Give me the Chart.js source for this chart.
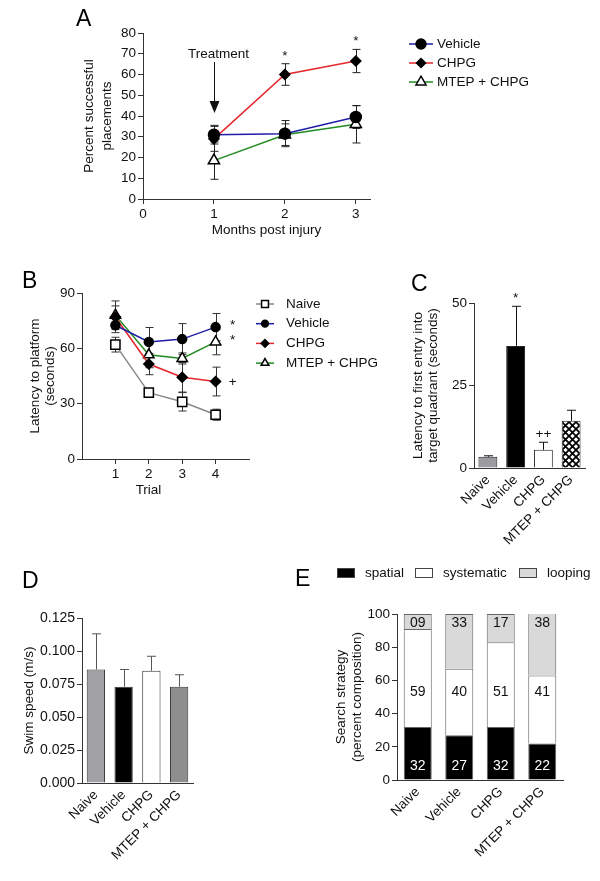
<!DOCTYPE html>
<html>
<head>
<meta charset="utf-8">
<script src="https://cdn.jsdelivr.net/npm/chart.js@4.4.0/dist/chart.umd.min.js"></script>
<style>
  body { margin: 0; background: #fff; }
  #fig { position: relative; width: 600px; height: 881px; background: #fff; overflow: hidden;
         font-family: 'Liberation Sans', Arial, sans-serif; }
  #fig canvas { position: absolute; }
  .letter { position: absolute; font-size: 23px; line-height: 1; color: #000; }
</style>
</head>
<body>
<div id="fig">
  <canvas id="chartA" width="600" height="240" style="left:0;top:0"></canvas>
  <canvas id="chartB" width="380" height="260" style="left:0;top:240px"></canvas>
  <canvas id="chartC" width="220" height="340" style="left:380px;top:240px"></canvas>
  <canvas id="chartD" width="300" height="381" style="left:0;top:500px"></canvas>
  <canvas id="chartE" width="300" height="381" style="left:300px;top:500px"></canvas>
  <div class="letter" style="left:76px;top:7px">A</div>
  <div class="letter" style="left:22px;top:269px">B</div>
  <div class="letter" style="left:411px;top:272px">C</div>
  <div class="letter" style="left:22px;top:569px">D</div>
  <div class="letter" style="left:295px;top:567px">E</div>
</div>
<script>
// ======================
// Data
// ======================
const groups = ['Naive', 'Vehicle', 'CHPG', 'MTEP + CHPG'];

// A - placements
const monthsA = [1, 2, 3];
const vehicleA = [31, 31.5, 39.5];
const vehicleErrA = [4.5, 6.3, 5.5];
const chpgA = [29, 60, 66.5];
const chpgErrA = [6, 5.2, 5.6];
const mtepA = [18.5, 31, 36];
const mtepErrA = [9, 5.2, 9];
const chpgSigA = ['', '*', '*'];
const xTicksA = [0, 1, 2, 3];
const yTicksA = [0, 10, 20, 30, 40, 50, 60, 70, 80];

// B - latency over trials
const trialsB = [1, 2, 3, 4];
const naiveB = [62, 36, 31, 24];
const naiveErrB = [4, 1.5, 5, 3];
const vehicleB = [72.5, 63.5, 65, 71.5];
const vehicleErrB = [4, 7.8, 8.4, 7.4];
const chpgB = [77, 51.5, 44.3, 42];
const chpgErrB = [6, 5.8, 8, 7.8];
const mtepB = [78, 56.5, 54.5, 63.5];
const mtepErrB = [7.7, 7, 3, 7];
const sigB = ['', '*', '+', '*'];
const xTicksB = [1, 2, 3, 4];
const yTicksB = [0, 30, 60, 90];

// C - latency to target quadrant
const latencyC = [3.4, 37, 5.5, 14.3];
const latencyErrC = [0.3, 12, 2.3, 3.2];
const sigC = ['', '*', '++', ''];
const yTicksC = [0, 25, 50];

// D - swim speed
const speedD = [0.086, 0.073, 0.085, 0.073];
const speedErrD = [0.027, 0.013, 0.011, 0.009];
const yTicksD = [0, 0.025, 0.05, 0.075, 0.1, 0.125];

// E - search strategy
const spatialE = [32, 27, 32, 22];
const systematicE = [59, 40, 51, 41];
const loopingE = [9, 33, 17, 38];
const yTicksE = [0, 20, 40, 60, 80, 100];

// ======================
// Common stuff
// ======================
const FONT = "'Liberation Sans', Arial, sans-serif";
Chart.defaults.font.family = FONT;
Chart.defaults.font.size = 13.5;
Chart.defaults.color = '#111';

function setTicks(values) {
  return scale => { scale.ticks = values.map(v => ({ value: v })); };
}

function axisLook(drawTicks) {
  return {
    border: { color: '#333', width: 1 },
    grid: { display: drawTicks, drawOnChartArea: false, drawTicks: drawTicks, tickLength: 5, color: '#333' }
  };
}

function lineSet(label, xs, ys, color, style, radius, fill) {
  return {
    label: label,
    data: xs.map((x, i) => ({ x: x, y: ys[i] })),
    borderColor: color,
    borderWidth: 1.5,
    pointStyle: style,
    pointRadius: radius,
    pointBackgroundColor: fill,
    pointBorderColor: '#000',
    pointBorderWidth: 1.5
  };
}

// Error bars (drawn from each dataset's error array)
const errorBars = {
  id: 'errorBars',
  draw(chart, opts) {
    const ctx = chart.ctx;
    const yScale = chart.scales.y;
    ctx.save();
    ctx.strokeStyle = opts.color || '#222';
    ctx.lineWidth = 1;
    opts.errors.forEach((errs, i) => {
      if (!errs) return;
      const meta = chart.getDatasetMeta(i);
      const values = chart.data.datasets[i].data.map(d => (typeof d === 'object' ? d.y : d));
      meta.data.forEach((el, j) => {
        const v = values[j];
        const x = Math.round(el.x) + 0.5;
        const top = yScale.getPixelForValue(v + errs[j]);
        const bot = opts.upOnly ? yScale.getPixelForValue(v) : yScale.getPixelForValue(v - errs[j]);
        ctx.beginPath();
        ctx.moveTo(x, top); ctx.lineTo(x, bot);
        ctx.moveTo(x - opts.cap, top); ctx.lineTo(x + opts.cap, top);
        if (!opts.upOnly) { ctx.moveTo(x - opts.cap, bot); ctx.lineTo(x + opts.cap, bot); }
        ctx.stroke();
      });
    });
    ctx.restore();
  },
  beforeDatasetsDraw(chart, args, opts) {
    if (opts && opts.errors && opts.layer === 'before') this.draw(chart, opts);
  },
  afterDatasetsDraw(chart, args, opts) {
    if (opts && opts.errors && opts.layer !== 'before') this.draw(chart, opts);
  }
};
Chart.register(errorBars);

// Legend with line + marker, placed right of the plot
function lineLegend(id, dx, dy, rowGap, lineLen, textGap, markScale) {
  return {
    id: id,
    afterDraw(chart) {
      const ctx = chart.ctx;
      const x0 = chart.chartArea.right + dx;
      chart.data.datasets.forEach((ds, i) => {
        const y = chart.chartArea.top + dy + i * rowGap;
        ctx.save();
        ctx.strokeStyle = ds.borderColor;
        ctx.lineWidth = 1.5;
        ctx.beginPath(); ctx.moveTo(x0, y); ctx.lineTo(x0 + lineLen, y); ctx.stroke();
        ctx.fillStyle = ds.pointBackgroundColor;
        ctx.strokeStyle = ds.pointBorderColor;
        ctx.lineWidth = ds.pointBorderWidth;
        Chart.helpers.drawPoint(ctx, { pointStyle: ds.pointStyle, radius: ds.pointRadius * markScale, borderWidth: ds.pointBorderWidth }, x0 + lineLen / 2, y);
        ctx.fillStyle = '#111';
        ctx.font = '13.5px ' + FONT;
        ctx.textBaseline = 'middle';
        ctx.fillText(ds.label, x0 + lineLen + textGap, y);
        ctx.restore();
      });
    }
  };
}

// x axis title, placed a bit off-centre like the original
function xTitle(id, text, dx, fromBottom) {
  return {
    id: id,
    afterDraw(chart) {
      const ctx = chart.ctx;
      const area = chart.chartArea;
      ctx.save();
      ctx.fillStyle = '#111';
      ctx.font = '13.5px ' + FONT;
      ctx.textAlign = 'center';
      ctx.textBaseline = 'middle';
      ctx.fillText(text, (area.left + area.right) / 2 + dx, chart.height - fromBottom);
      ctx.restore();
    }
  };
}

function noChrome() {
  return { legend: { display: false }, tooltip: { enabled: false } };
}

// ======================
// Panel A
// ======================
new Chart(document.getElementById('chartA'), {
  type: 'line',
  data: {
    datasets: [
      lineSet('Vehicle', monthsA, vehicleA, '#1d1da8', 'circle', 5.5, '#000'),
      lineSet('CHPG', monthsA, chpgA, '#e5262b', 'rectRot', 5, '#000'),
      lineSet('MTEP + CHPG', monthsA, mtepA, '#228b22', 'triangle', 6.5, '#fff')
    ]
  },
  options: {
    responsive: false,
    animation: false,
    layout: { padding: { left: 0, top: 33, right: 230, bottom: 0 } },
    plugins: Object.assign(noChrome(), {
      errorBars: { errors: [vehicleErrA, chpgErrA, mtepErrA], layer: 'before', cap: 4, color: '#222' }
    }),
    scales: {
      x: Object.assign(axisLook(true), {
        type: 'linear', min: 0, max: 3.2,
        afterBuildTicks: setTicks(xTicksA),
        afterFit: s => { s.height = 41; },
        ticks: { padding: 2 }
      }),
      y: Object.assign(axisLook(true), {
        min: 0, max: 80,
        afterBuildTicks: setTicks(yTicksA),
        afterFit: s => { s.width = 143; },
        ticks: { padding: 2 },
        title: { display: true, text: ['Percent successful', 'placements'], font: { size: 13.5, lineHeight: 18 / 13.5 }, padding: { top: 80 } }
      })
    }
  },
  plugins: [
    lineLegend('legendA', 39, 11, 19, 24, 4, 0.9),
    xTitle('titleA', 'Months post injury', 10, 10),
    {
      id: 'notesA',
      afterDatasetsDraw(chart) {
        const ctx = chart.ctx;
        const xs = chart.scales.x, ys = chart.scales.y;
        const top = chart.chartArea.top;
        const x = Math.round(xs.getPixelForValue(monthsA[0])) + 0.5;
        ctx.save();
        ctx.fillStyle = '#111';
        ctx.strokeStyle = '#111';
        ctx.font = '13.5px ' + FONT;
        ctx.textAlign = 'center';
        ctx.textBaseline = 'middle';
        ctx.fillText('Treatment', x + 4, top + 21);
        ctx.lineWidth = 1;
        ctx.beginPath(); ctx.moveTo(x, top + 29); ctx.lineTo(x, top + 70); ctx.stroke();
        ctx.beginPath(); ctx.moveTo(x - 5, top + 68); ctx.lineTo(x + 5, top + 68); ctx.lineTo(x, top + 80); ctx.closePath(); ctx.fill();
        // significance over CHPG
        ctx.textBaseline = 'alphabetic';
        chpgSigA.forEach((s, i) => {
          if (!s) return;
          const px = xs.getPixelForValue(monthsA[i]);
          const py = ys.getPixelForValue(chpgA[i] + chpgErrA[i]);
          ctx.fillText(s, px, py - 4);
        });
        ctx.restore();
      }
    }
  ]
});

// ======================
// Panel B
// ======================
new Chart(document.getElementById('chartB'), {
  type: 'line',
  data: {
    datasets: [
      lineSet('Naive', trialsB, naiveB, '#8a8a8a', 'rect', 6.5, '#fff'),
      lineSet('Vehicle', trialsB, vehicleB, '#1d1da8', 'circle', 4.5, '#000'),
      lineSet('CHPG', trialsB, chpgB, '#e5262b', 'rectRot', 5, '#000'),
      lineSet('MTEP + CHPG', trialsB, mtepB, '#228b22', 'triangle', 6, '#fff')
    ]
  },
  options: {
    responsive: false,
    animation: false,
    layout: { padding: { left: 0, top: 53, right: 131, bottom: 0 } },
    plugins: Object.assign(noChrome(), {
      errorBars: { errors: [naiveErrB, vehicleErrB, chpgErrB, mtepErrB], layer: 'before', cap: 4, color: '#333' }
    }),
    scales: {
      x: Object.assign(axisLook(true), {
        type: 'linear', min: 0, max: 5,
        afterBuildTicks: setTicks(xTicksB),
        afterFit: s => { s.height = 41; },
        ticks: { padding: 2 }
      }),
      y: Object.assign(axisLook(true), {
        min: 0, max: 90,
        afterBuildTicks: setTicks(yTicksB),
        afterFit: s => { s.width = 82; },
        ticks: { padding: 2 },
        title: { display: true, text: ['Latency to platform', '(seconds)'], font: { size: 13.5, lineHeight: 15 / 13.5 }, padding: { top: 27.5 } }
      })
    }
  },
  plugins: [
    lineLegend('legendB', 7, 11, 19.7, 18, 12, 0.75),
    xTitle('titleB', 'Trial', -17, 10),
    {
      id: 'sigB',
      afterDatasetsDraw(chart) {
        const ctx = chart.ctx;
        ctx.save();
        ctx.fillStyle = '#111';
        ctx.font = '13.5px ' + FONT;
        ctx.textAlign = 'center';
        ctx.textBaseline = 'middle';
        sigB.forEach((s, i) => {
          if (!s) return;
          const meta = chart.getDatasetMeta(i);
          const last = meta.data[meta.data.length - 1];
          ctx.fillText(s, last.x + 17, last.y + (s === '*' ? -2 : 1));
        });
        ctx.restore();
      }
    }
  ]
});

// ======================
// Panel C
// ======================
const ctxC = document.getElementById('chartC').getContext('2d');
function crossHatch(ctx) {
  const c = document.createElement('canvas');
  c.width = 7; c.height = 7;
  const g = c.getContext('2d');
  g.fillStyle = '#fff';
  g.fillRect(0, 0, 7, 7);
  g.strokeStyle = '#000';
  g.lineWidth = 1.8;
  g.beginPath();
  g.moveTo(0, 0); g.lineTo(7, 7);
  g.moveTo(7, 0); g.lineTo(0, 7);
  g.stroke();
  return ctx.createPattern(c, 'repeat');
}

new Chart(ctxC, {
  type: 'bar',
  data: {
    labels: groups,
    datasets: [{
      data: latencyC,
      backgroundColor: ['#9c9ca0', '#000', '#fff', crossHatch(ctxC)],
      borderColor: '#222',
      borderWidth: 1,
      barPercentage: 0.68,
      categoryPercentage: 1
    }]
  },
  options: {
    responsive: false,
    animation: false,
    layout: { padding: { left: 0, top: 63, right: 15, bottom: 0 } },
    plugins: Object.assign(noChrome(), {
      errorBars: { errors: [latencyErrC], upOnly: true, cap: 4.5, color: '#111' }
    }),
    scales: {
      x: Object.assign(axisLook(false), {
        afterFit: s => { s.height = 112; },
        ticks: { minRotation: 45, maxRotation: 45, autoSkip: false, padding: 4 }
      }),
      y: Object.assign(axisLook(true), {
        min: 0, max: 50,
        afterBuildTicks: setTicks(yTicksC),
        afterFit: s => { s.width = 94; },
        ticks: { padding: 2 },
        title: { display: true, text: ['Latency to first entry into', 'target quadrant (seconds)'], font: { size: 13.5, lineHeight: 15 / 13.5 }, padding: { top: 30.5 } }
      })
    }
  },
  plugins: [{
    id: 'sigC',
    afterDatasetsDraw(chart) {
      const ctx = chart.ctx;
      const meta = chart.getDatasetMeta(0);
      ctx.save();
      ctx.fillStyle = '#111';
      ctx.font = '13.5px ' + FONT;
      ctx.textAlign = 'center';
      ctx.textBaseline = 'alphabetic';
      sigC.forEach((s, i) => {
        if (!s) return;
        const py = chart.scales.y.getPixelForValue(latencyC[i] + latencyErrC[i]);
        ctx.fillText(s, meta.data[i].x, py - 4);
      });
      ctx.restore();
    }
  }]
});

// ======================
// Panel D
// ======================
new Chart(document.getElementById('chartD'), {
  type: 'bar',
  data: {
    labels: groups,
    datasets: [{
      data: speedD,
      backgroundColor: ['#a2a2a6', '#000', '#fff', '#8e8e8e'],
      borderColor: '#333',
      borderWidth: 1,
      barPercentage: 0.66,
      categoryPercentage: 1
    }]
  },
  options: {
    responsive: false,
    animation: false,
    layout: { padding: { left: 0, top: 118, right: 107, bottom: 0 } },
    plugins: Object.assign(noChrome(), {
      errorBars: { errors: [speedErrD], upOnly: true, cap: 4.5, color: '#555' }
    }),
    scales: {
      x: Object.assign(axisLook(false), {
        afterFit: s => { s.height = 98; },
        ticks: { minRotation: 45, maxRotation: 45, autoSkip: false, padding: 4 }
      }),
      y: Object.assign(axisLook(true), {
        min: 0, max: 0.125,
        afterBuildTicks: setTicks(yTicksD),
        afterFit: s => { s.width = 82; },
        ticks: { padding: 2, font: { size: 14 }, callback: v => v.toFixed(3) },
        title: { display: true, text: 'Swim speed (m/s)', font: { size: 13.5, lineHeight: 15 / 13.5 }, padding: { top: 21.5 } }
      })
    }
  }
});

// ======================
// Panel E
// ======================
new Chart(document.getElementById('chartE'), {
  type: 'bar',
  data: {
    labels: groups,
    datasets: [
      { label: 'spatial', data: spatialE, backgroundColor: '#000', textColor: '#fff', labelAt: 'bottom' },
      { label: 'systematic', data: systematicE, backgroundColor: '#fff', textColor: '#111', labelAt: 'middle' },
      { label: 'looping', data: loopingE, backgroundColor: '#d9d9d9', textColor: '#111', labelAt: 'top' }
    ].map(ds => Object.assign(ds, { borderColor: '#666', borderWidth: 1, barPercentage: 0.675, categoryPercentage: 1 }))
  },
  options: {
    responsive: false,
    animation: false,
    layout: { padding: { left: 0, top: 114, right: 37, bottom: 0 } },
    plugins: noChrome(),
    scales: {
      x: Object.assign(axisLook(false), {
        stacked: true,
        afterFit: s => { s.height = 101; },
        ticks: { minRotation: 45, maxRotation: 45, autoSkip: false, padding: 4 }
      }),
      y: Object.assign(axisLook(true), {
        stacked: true,
        min: 0, max: 100,
        afterBuildTicks: setTicks(yTicksE),
        afterFit: s => { s.width = 97; },
        ticks: { padding: 2 },
        title: { display: true, text: ['Search strategy', '(percent composition)'], font: { size: 13.5, lineHeight: 16 / 13.5 }, padding: { top: 33 } }
      })
    }
  },
  plugins: [{
    id: 'labelsE',
    afterDatasetsDraw(chart) {
      const ctx = chart.ctx;
      const area = chart.chartArea;
      ctx.save();
      ctx.font = '14px ' + FONT;
      ctx.textAlign = 'center';
      ctx.textBaseline = 'middle';
      chart.data.datasets.forEach((ds, i) => {
        const meta = chart.getDatasetMeta(i);
        let y = area.top + 78;
        if (ds.labelAt === 'bottom') y = area.bottom - 14;
        if (ds.labelAt === 'top') y = area.top + 9;
        ctx.fillStyle = ds.textColor;
        meta.data.forEach((el, j) => {
          ctx.fillText(String(ds.data[j]).padStart(2, '0'), el.x, y);
        });
      });
      // legend above the plot
      const ly = area.top - 41;
      const items = [[-60, -32], [18, 46], [122, 150]];
      chart.data.datasets.forEach((ds, i) => {
        const bx = area.left + items[i][0];
        ctx.fillStyle = ds.backgroundColor;
        ctx.fillRect(bx, ly - 5, 18, 10);
        ctx.strokeStyle = '#444';
        ctx.lineWidth = 1;
        ctx.strokeRect(bx + 0.5, ly - 4.5, 17, 9);
        ctx.fillStyle = '#111';
        ctx.font = '13.5px ' + FONT;
        ctx.textAlign = 'left';
        ctx.fillText(ds.label, area.left + items[i][1], ly);
      });
      ctx.restore();
    }
  }]
});
</script>
</body>
</html>
